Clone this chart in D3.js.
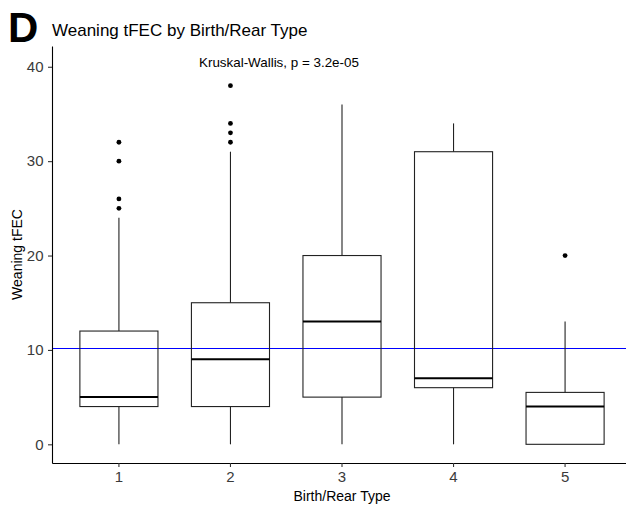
<!DOCTYPE html>
<html lang="en">
<head>
  <meta charset="utf-8">
  <script src="https://d3js.org/d3.v7.min.js"></script>
  <style>
    body { margin: 0; background: #fff; }
    svg text { font-family: "Liberation Sans", Arial, sans-serif; }
  </style>
</head>
<body>
  <script>
    // data
    var categories = ["1", "2", "3", "4", "5"];
    var whiskerLow = [0, 0, 0, 0, 0];
    var q1 = [4, 4, 5, 6, 0];
    var medians = [5, 9, 13, 7, 4];
    var q3 = [12, 15, 20, 31, 5.5];
    var whiskerHigh = [24, 31, 36, 34, 13];
    var outliers = [[25, 26, 30, 32], [32, 33, 34, 38], [], [], [20]];
    var meanLine = 10.2;
    var yTicks = [0, 10, 20, 30, 40];

    var width = 626,
      height = 508;
    // panel edges (note: "top" is taken by window.top)
    var panelLeft = 52, panelRight = 632, panelTop = 46, panelBottom = 463;

    var svg = d3.select('body')
      .append('svg')
      .attr('width', width)
      .attr('height', height);

    var x = d3.scaleBand()
      .domain(categories)
      .range([panelLeft, panelRight])
      .paddingInner(0.3)
      .paddingOuter(0.25);

    var y = d3.scaleLinear()
      .domain([-1.98, 42.2])
      .range([panelBottom, panelTop]);

    var boxes = categories.map(function(c, i) {
      return {cat: c, lo: whiskerLow[i], q1: q1[i], med: medians[i], q3: q3[i], hi: whiskerHigh[i], out: outliers[i]};
    });

    // horizontal reference line
    svg.append('line')
      .attr('x1', panelLeft).attr('x2', width)
      .attr('y1', Math.round(y(meanLine)) + 0.5).attr('y2', Math.round(y(meanLine)) + 0.5)
      .attr('stroke', '#0000ff')
      .attr('stroke-width', 1);

    var g = svg.selectAll('g.box')
      .data(boxes)
      .join('g')
      .attr('class', 'box');

    // whiskers
    g.append('line')
      .attr('x1', function(d) { return x(d.cat) + x.bandwidth() / 2; })
      .attr('x2', function(d) { return x(d.cat) + x.bandwidth() / 2; })
      .attr('y1', function(d) { return y(d.q3); })
      .attr('y2', function(d) { return y(d.hi); })
      .attr('stroke', '#222').attr('stroke-width', 1.1);
    g.append('line')
      .attr('x1', function(d) { return x(d.cat) + x.bandwidth() / 2; })
      .attr('x2', function(d) { return x(d.cat) + x.bandwidth() / 2; })
      .attr('y1', function(d) { return y(d.q1); })
      .attr('y2', function(d) { return y(d.lo); })
      .attr('stroke', '#222').attr('stroke-width', 1.1);

    // box
    g.append('rect')
      .attr('x', function(d) { return x(d.cat); })
      .attr('width', x.bandwidth())
      .attr('y', function(d) { return y(d.q3); })
      .attr('height', function(d) { return y(d.q1) - y(d.q3); })
      .attr('fill', 'none')
      .attr('stroke', '#222')
      .attr('stroke-width', 1.1);

    // median
    g.append('line')
      .attr('x1', function(d) { return x(d.cat); })
      .attr('x2', function(d) { return x(d.cat) + x.bandwidth(); })
      .attr('y1', function(d) { return y(d.med); })
      .attr('y2', function(d) { return y(d.med); })
      .attr('stroke', '#000').attr('stroke-width', 2);

    // outliers
    g.selectAll('circle')
      .data(function(d) { return d.out.map(function(v) { return {cat: d.cat, v: v}; }); })
      .join('circle')
      .attr('cx', function(d) { return x(d.cat) + x.bandwidth() / 2; })
      .attr('cy', function(d) { return y(d.v); })
      .attr('r', 2.4)
      .attr('fill', '#000');

    // axes
    var yAxis = svg.append('g')
      .attr('transform', 'translate(' + panelLeft + ',0)')
      .call(d3.axisLeft(y).tickValues(yTicks).tickSize(4).tickSizeOuter(0).tickPadding(4.5));
    var xAxis = svg.append('g')
      .attr('transform', 'translate(0,' + panelBottom + ')')
      .call(d3.axisBottom(x).tickSize(4).tickSizeOuter(0).tickPadding(4.5));

    [yAxis, xAxis].forEach(function(a) {
      a.select('.domain').attr('stroke', '#000').attr('stroke-width', 1.1);
      a.selectAll('.tick line').attr('stroke', '#333').attr('stroke-width', 1.1);
      a.selectAll('.tick text')
        .attr('fill', '#3a3a3a')
        .style('font-size', '15px')
        .style('font-family', '"Liberation Sans", Arial, sans-serif');
    });

    // titles
    svg.append('text')
      .attr('x', 8).attr('y', 42)
      .style('font-size', '42px').style('font-weight', 'bold')
      .attr('fill', '#000')
      .text('D');

    svg.append('text')
      .attr('x', 52).attr('y', 36)
      .style('font-size', '17px')
      .attr('fill', '#000')
      .text('Weaning tFEC by Birth/Rear Type');

    svg.append('text')
      .attr('x', 199).attr('y', 67)
      .style('font-size', '13.4px')
      .attr('fill', '#000')
      .text('Kruskal-Wallis, p = 3.2e-05');

    svg.append('text')
      .attr('x', (panelLeft + panelRight) / 2).attr('y', 501)
      .attr('text-anchor', 'middle')
      .style('font-size', '14px')
      .attr('fill', '#000')
      .text('Birth/Rear Type');

    svg.append('text')
      .attr('transform', 'translate(22,' + (panelTop + panelBottom) / 2 + ') rotate(-90)')
      .attr('text-anchor', 'middle')
      .style('font-size', '14px')
      .attr('fill', '#000')
      .text('Weaning tFEC');
  </script>
</body>
</html>
